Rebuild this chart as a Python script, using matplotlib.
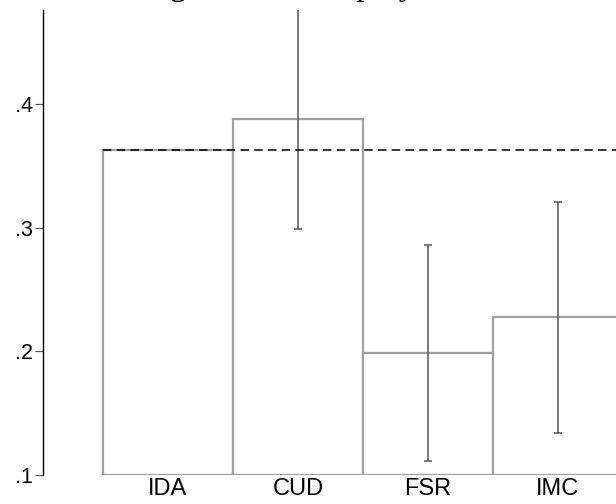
import numpy as np
import matplotlib
matplotlib.use('Agg')
from matplotlib import pyplot as plt

# dados
grupos = ['IDA', 'CUD', 'FSR', 'IMC']
medias = [0.3627, 0.3878, 0.1986, 0.2277]
ic_baixo = [0.3627, 0.2989, 0.1113, 0.1340]
ic_alto = [0.3627, 0.4767, 0.2860, 0.3207]
referencia = 0.3627
y_ticks = [0.1, 0.2, 0.3, 0.4]
y_labels = ['.1', '.2', '.3', '.4']

titulo = 'Share working in stable employment'


def main():
    fig = plt.figure(figsize=(6.16, 5.04), dpi=100)
    ax = fig.add_axes([43 / 616, 29 / 504, 1 - 43 / 616, 465 / 504])

    x = np.arange(len(grupos))
    ax.bar(x, np.array(medias) - 0.1, bottom=0.1, width=1.0,
           color='white', edgecolor='#a0a0a0', linewidth=1.6, zorder=2)

    # intervalos (IDA nao tem)
    for i in range(1, len(grupos)):
        ax.errorbar(x[i], medias[i],
                    yerr=[[medias[i] - ic_baixo[i]], [ic_alto[i] - medias[i]]],
                    fmt='none', ecolor='#555555', elinewidth=1.1,
                    capsize=3.2, capthick=1.1, zorder=3)

    ax.plot([-0.5, 3.6], [referencia, referencia], color='black',
            linestyle=(0, (5.5, 3.5)), linewidth=1.1, zorder=4)

    ax.set_xlim(-0.5 - 60 / 130, -0.5 + (616 - 103) / 130)
    ax.set_ylim(0.1, 0.1 + 465 / 1237)

    ax.set_xticks(x)
    ax.set_xticklabels(grupos, fontfamily='Liberation Sans', fontsize=17)
    ax.tick_params(axis='x', length=0, pad=2.5)
    ax.set_yticks(y_ticks)
    ax.set_yticklabels(y_labels, fontfamily='Liberation Sans', fontsize=15.5)
    ax.tick_params(axis='y', length=5.5, width=0.8, color='#555555', pad=1.5)

    for s in ['top', 'right', 'bottom']:
        ax.spines[s].set_visible(False)
    ax.spines['left'].set_linewidth(1.0)

    # titulo cortado no topo, so aparecem as pernas das letras
    fig.text(-9 / 616, 1.0 + 4.5 / 504, titulo, fontfamily='Liberation Serif',
             fontsize=24, va='baseline', ha='left')

    fig.savefig('out.png', dpi=100)


if __name__ == '__main__':
    main()
